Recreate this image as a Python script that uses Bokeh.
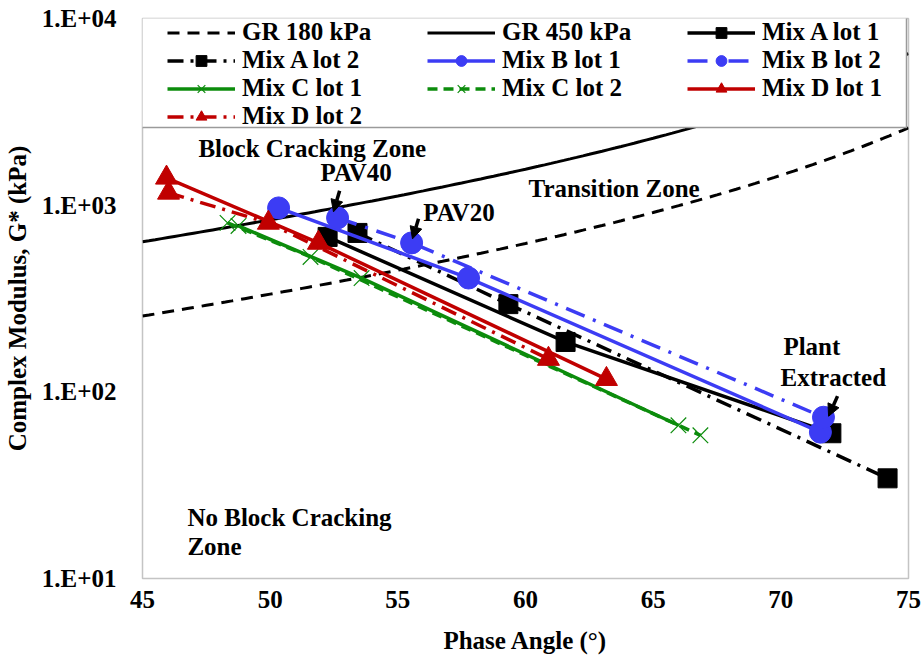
import numpy as np
from bokeh.plotting import figure
from bokeh.models import (Range1d, FixedTicker, Legend, LegendItem, Label,
                          Arrow, NormalHead, BoxAnnotation)
from bokeh.embed import file_html
from bokeh.resources import INLINE

# ---- data -----------------------------------------------------------------
# Glover-Rowe criteria: G*(cos d)^2 / sin d = GR  ->  G* = GR sin d / cos^2 d
gr_values = [180, 450]                      # kPa
gr_labels = ["GR 180 kPa", "GR 450 kPa"]
gr_phase = np.arange(45.0, 75.01, 0.25)     # phase angle samples (deg)

# Phase angle (deg) and G* (kPa): PAV40, PAV20, plant extracted
mix_a_lot1_delta = [52.25, 61.57, 71.98]
mix_a_lot1_g = [676, 185, 60.0]
mix_a_lot2_delta = [53.42, 59.33, 74.18]
mix_a_lot2_g = [710, 295, 34.4]
mix_b_lot1_delta = [50.33, 57.77, 71.55]
mix_b_lot1_g = [967, 407, 60.8]
mix_b_lot2_delta = [52.64, 55.54, 71.67]
mix_b_lot2_g = [855, 628, 73.1]
mix_c_lot1_delta = [48.76, 53.58, 65.99]
mix_c_lot1_g = [774, 407, 66.2]
mix_c_lot2_delta = [48.33, 51.58, 66.85]
mix_c_lot2_g = [804, 528, 58.5]
mix_d_lot1_delta = [45.94, 51.89, 63.17]
mix_d_lot1_g = [1402, 628, 117]
mix_d_lot2_delta = [46.02, 49.93, 60.90]
mix_d_lot2_g = [1165, 804, 150]

x_ticks = [45, 50, 55, 60, 65, 70, 75]
y_ticks = [10, 100, 1000, 10000]
y_tick_labels = ["1.E+01", "1.E+02", "1.E+03", "1.E+04"]

# ---- styling --------------------------------------------------------------
FONT = "Liberation Serif"
BLACK = "#000000"
BLUE = "#3c3cf4"
GREEN = "#0c8c0c"
RED = "#c00000"

series = [
    ("Mix A lot 1", mix_a_lot1_delta, mix_a_lot1_g, BLACK, "solid", "square"),
    ("Mix A lot 2", mix_a_lot2_delta, mix_a_lot2_g, BLACK, "16 7 3 7", "square"),
    ("Mix B lot 1", mix_b_lot1_delta, mix_b_lot1_g, BLUE, "solid", "circle"),
    ("Mix B lot 2", mix_b_lot2_delta, mix_b_lot2_g, BLUE, "20 9 3 9", "circle"),
    ("Mix C lot 1", mix_c_lot1_delta, mix_c_lot1_g, GREEN, "solid", "x"),
    ("Mix C lot 2", mix_c_lot2_delta, mix_c_lot2_g, GREEN, "10 6", "x"),
    ("Mix D lot 1", mix_d_lot1_delta, mix_d_lot1_g, RED, "solid", "triangle"),
    ("Mix D lot 2", mix_d_lot2_delta, mix_d_lot2_g, RED, "16 7 3 7", "triangle"),
]
marker_size = {"square": 19, "circle": 22, "triangle": 22, "x": 22}

p = figure(width=922, height=663, x_range=Range1d(45, 75),
           y_range=Range1d(10, 10000), y_axis_type="log",
           output_backend="svg", toolbar_location=None,
           min_border_left=142, min_border_right=14,
           min_border_top=18, min_border_bottom=85)
p.background_fill_color = "white"
p.border_fill_color = "white"
p.xgrid.visible = False
p.ygrid.visible = False
p.outline_line_color = "#c4c4c4"
p.outline_line_width = 1.5

items = []

# criteria curves
gr_dashes = ["12 8", "solid"]
for gr, lab, dash in zip(gr_values, gr_labels, gr_dashes):
    d = np.radians(gr_phase)
    g = gr * np.sin(d) / np.cos(d) ** 2
    r = p.line(gr_phase, g, line_color=BLACK, line_width=3, line_dash=dash)
    items.append(LegendItem(label=lab, renderers=[r]))

# measured mixes
for lab, xs, ys, color, dash, marker in series:
    lr = p.line(xs, ys, line_color=color, line_width=3.5, line_dash=dash)
    if marker == "x":
        sr = p.scatter(xs, ys, marker="x", size=marker_size[marker],
                       line_color=color, line_width=1.2)
    else:
        sr = p.scatter(xs, ys, marker=marker, size=marker_size[marker],
                       fill_color=color, line_color=color)
    items.append(LegendItem(label=lab, renderers=[lr, sr]))

# ---- axes -----------------------------------------------------------------
p.xaxis.ticker = FixedTicker(ticks=x_ticks)
p.yaxis.ticker = FixedTicker(ticks=y_ticks)
p.yaxis.major_label_overrides = {float(t): s for t, s in zip(y_ticks, y_tick_labels)}
p.xaxis.axis_label = "Phase Angle (°)"
p.yaxis.axis_label = "Complex Modulus, G* (kPa)"
for ax in (p.xaxis, p.yaxis):
    ax.axis_line_color = None
    ax.major_tick_line_color = None
    ax.minor_tick_line_color = None
    ax.major_label_text_font = FONT
    ax.major_label_text_font_style = "bold"
    ax.major_label_text_font_size = "25px"
    ax.major_label_text_color = BLACK
    ax.axis_label_text_font = FONT
    ax.axis_label_text_font_style = "bold"
    ax.axis_label_text_font_size = "25px"
    ax.axis_label_text_color = BLACK
p.xaxis.major_label_standoff = 6
p.xaxis.axis_label_standoff = 16
p.yaxis.major_label_standoff = 20
p.yaxis.axis_label_standoff = 8

# ---- legend box and legend ------------------------------------------------
box = BoxAnnotation(left=141, right=906, top=16, bottom=127,
                    left_units="canvas", right_units="canvas",
                    top_units="canvas", bottom_units="canvas",
                    fill_color="white", fill_alpha=1.0,
                    line_color="#9a9a9a", line_alpha=1.0, line_width=1.5)
p.add_layout(box)

legend = Legend(items=items, location=(25, 448), orientation="horizontal",
                ncols=3, spacing=0, padding=0, margin=0,
                glyph_width=68, glyph_height=27, label_height=27,
                label_width=185, label_standoff=7,
                label_text_font=FONT, label_text_font_style="bold",
                label_text_font_size="25px", label_text_color=BLACK,
                border_line_alpha=0, background_fill_alpha=0)
p.add_layout(legend, "center")

# ---- zone and stage annotations -------------------------------------------
def note(x, y, text):
    p.add_layout(Label(x=x, y=y, text=text, text_font=FONT,
                       text_font_style="bold", text_font_size="25px",
                       text_color=BLACK, text_align="left",
                       text_baseline="middle"))

note(47.19, 2004, "Block Cracking Zone")
note(51.97, 1491, "PAV40")
note(56.0, 910, "PAV20")
note(60.12, 1224, "Transition Zone")
note(70.10, 174, "Plant")
note(69.99, 120, "Extracted")
note(46.76, 21.3, "No Block Cracking")
note(46.76, 14.85, "Zone")

def pointer(x0, y0, x1, y1):
    p.add_layout(Arrow(x_start=x0, y_start=y0, x_end=x1, y_end=y1,
                       line_color=BLACK, line_width=3.5,
                       end=NormalHead(size=12, fill_color=BLACK,
                                      line_color=BLACK)))

pointer(52.72, 1194, 52.48, 921)
pointer(55.81, 845, 55.575, 660)
pointer(72.22, 94.8, 71.87, 74.0)

open("out.html", "w").write(file_html(p, INLINE))
